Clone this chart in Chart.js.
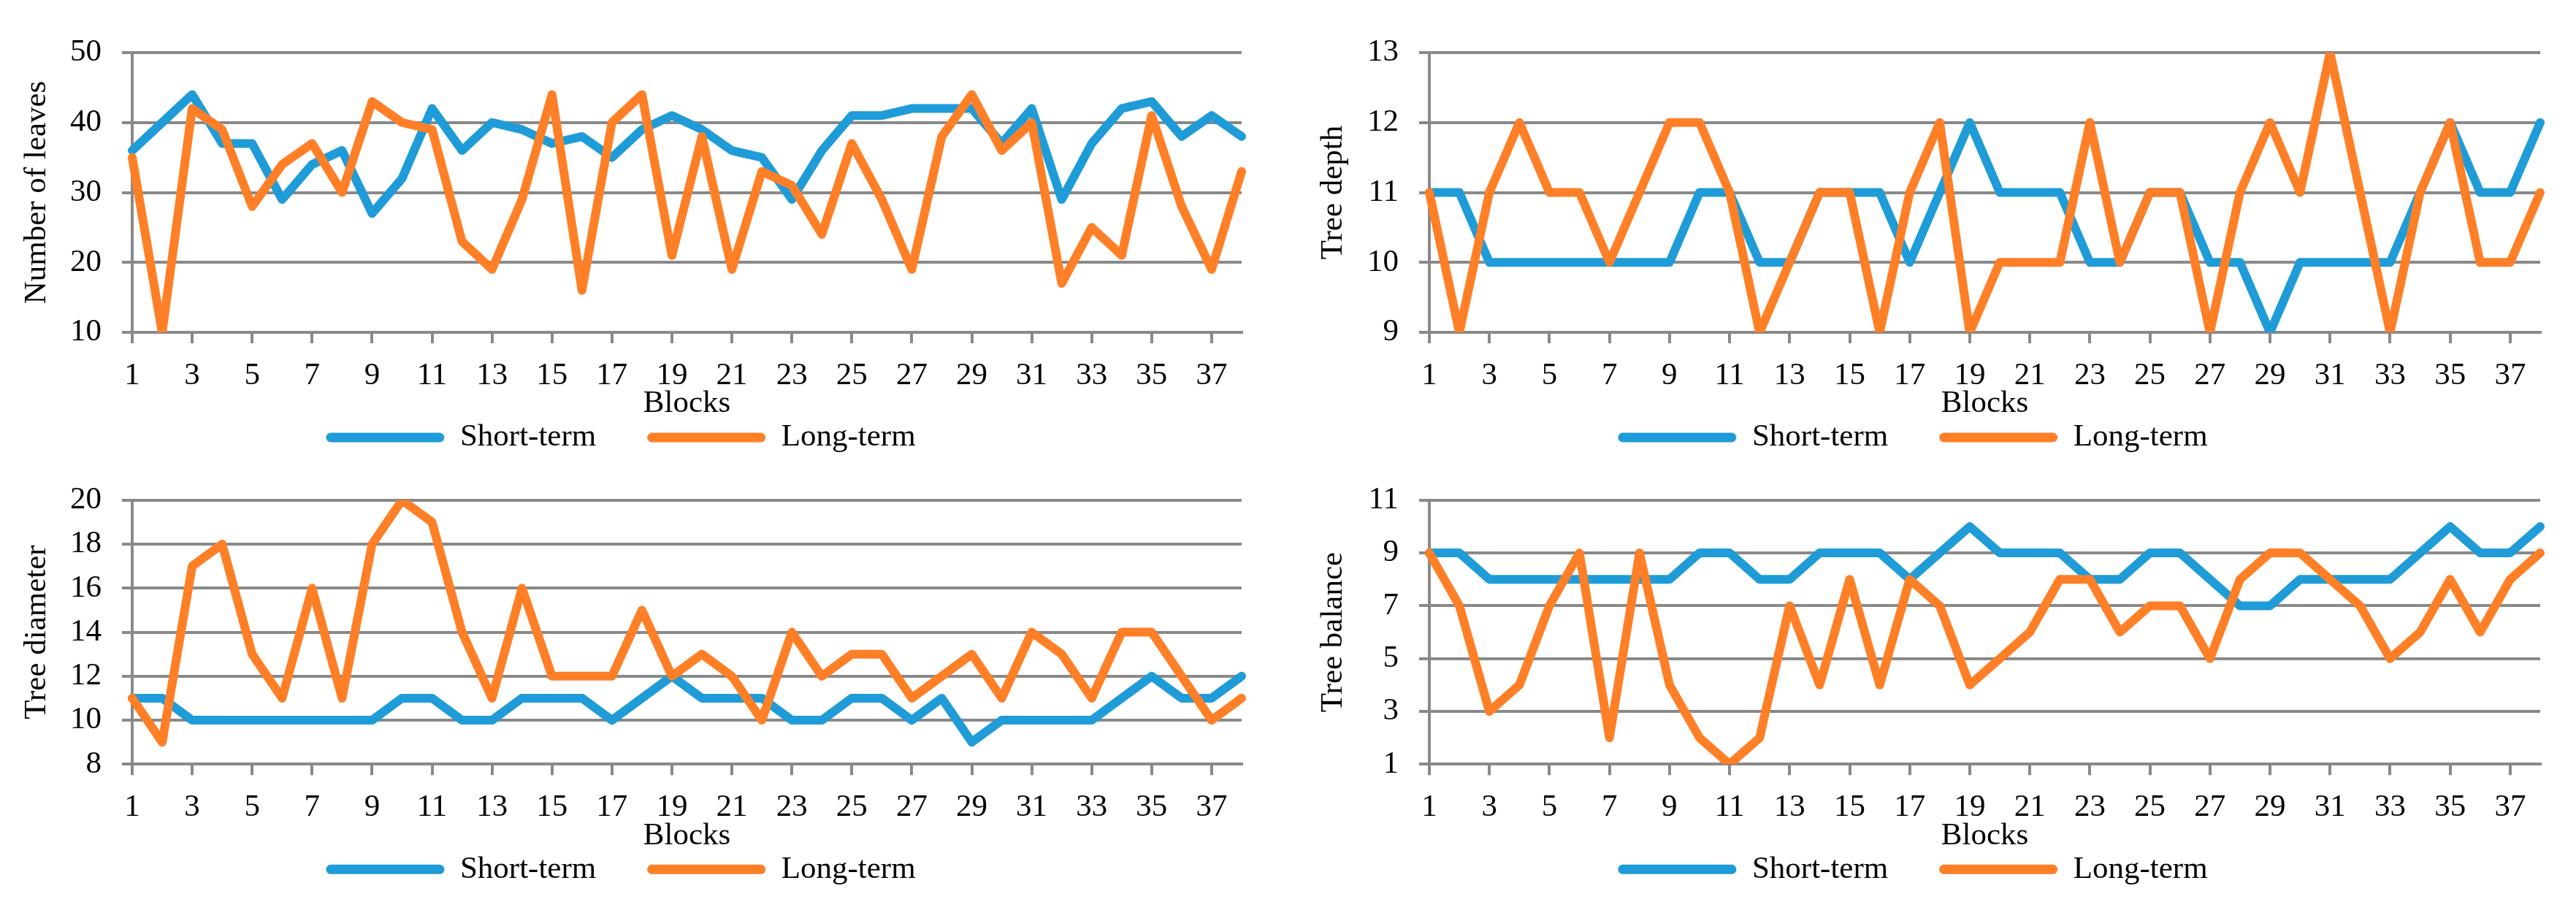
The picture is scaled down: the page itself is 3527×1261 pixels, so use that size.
<!DOCTYPE html>
<html>
<head>
<meta charset="utf-8">
<script src="https://cdn.jsdelivr.net/npm/chart.js@4.4.1/dist/chart.umd.min.js"></script>
<style>
html,body{margin:0;padding:0;background:#fff;width:3527px;height:1261px;overflow:hidden}
canvas{position:absolute}
</style>
</head>
<body>
<canvas id="c1" width="1760" height="631" style="left:0;top:0"></canvas>
<canvas id="c2" width="1767" height="631" style="left:1760px;top:0"></canvas>
<canvas id="c3" width="1760" height="630" style="left:0;top:631px"></canvas>
<canvas id="c4" width="1767" height="630" style="left:1760px;top:631px"></canvas>
<script>
// ---- data ----
const blocks = ['1','2','3','4','5','6','7','8','9','10','11','12','13','14','15','16','17','18','19','20',
                '21','22','23','24','25','26','27','28','29','30','31','32','33','34','35','36','37','38'];
const seriesNames = ['Short-term', 'Long-term'];

const leavesShort = [36,40,44,37,37,29,34,36,27,32,42,36,40,39,37,38,35,39,41,39,36,35,29,36,41,41,42,42,42,37,42,29,37,42,43,38,41,38];
const leavesLong  = [35,10,42,39,28,34,37,30,43,40,39,23,19,29,44,16,40,44,21,38,19,33,31,24,37,29,19,38,44,36,40,17,25,21,41,28,19,33];

const depthShort = [11,11,10,10,10,10,10,10,10,11,11,10,10,11,11,11,10,11,12,11,11,11,10,10,11,11,10,10,9,10,10,10,10,11,12,11,11,12];
const depthLong  = [11,9,11,12,11,11,10,11,12,12,11,9,10,11,11,9,11,12,9,10,10,10,12,10,11,11,9,11,12,11,13,11,9,11,12,10,10,11];

const diamShort = [11,11,10,10,10,10,10,10,10,11,11,10,10,11,11,11,10,11,12,11,11,11,10,10,11,11,10,11,9,10,10,10,10,11,12,11,11,12];
const diamLong  = [11,9,17,18,13,11,16,11,18,20,19,14,11,16,12,12,12,15,12,13,12,10,14,12,13,13,11,12,13,11,14,13,11,14,14,12,10,11];

const balShort = [9,9,8,8,8,8,8,8,8,9,9,8,8,9,9,9,8,9,10,9,9,9,8,8,9,9,8,7,7,8,8,8,8,9,10,9,9,10];
const balLong  = [9,7,3,4,7,9,2,9,4,2,1,2,7,4,8,4,8,7,4,5,6,8,8,6,7,7,5,8,9,9,8,7,5,6,8,6,8,9];

const yTitles = ['Number of leaves', 'Tree depth', 'Tree diameter', 'Tree balance'];
const yRanges = [[10,50,10],[9,13,1],[8,20,2],[1,11,2]];

// ---- style ----
const BLUE = '#1F9CD8';
const ORANGE = '#FF7F27';
const GRID = '#898989';
const FONT = 'Liberation Serif';
const FS = 43;

Chart.defaults.font.family = FONT;
Chart.defaults.font.size = FS;
Chart.defaults.color = '#000';

function makeChart(id, title, range, shortData, longData, lay) {
  const ctx = document.getElementById(id).getContext('2d');
  return new Chart(ctx, {
    type: 'line',
    data: {
      labels: blocks,
      datasets: [
        { label: seriesNames[0], data: shortData, borderColor: BLUE, backgroundColor: BLUE,
          borderWidth: 12, pointRadius: 0, tension: 0, borderJoinStyle: 'round', borderCapStyle: 'round', order: 2 },
        { label: seriesNames[1], data: longData, borderColor: ORANGE, backgroundColor: ORANGE,
          borderWidth: 12, pointRadius: 0, tension: 0, borderJoinStyle: 'round', borderCapStyle: 'round', order: 1 }
      ]
    },
    options: {
      responsive: false,
      devicePixelRatio: 1,
      animation: false,
      events: [],
      layout: { autoPadding: false, padding: lay.padding },
      plugins: {
        tooltip: { enabled: false },
        legend: {
          position: 'bottom',
          labels: {
            boxWidth: 162, boxHeight: 13, padding: 70,
            useBorderRadius: true, borderRadius: 6.5,
            font: { family: FONT, size: FS },
            sort: (a, b) => a.datasetIndex - b.datasetIndex,
            generateLabels: (chart) => Chart.defaults.plugins.legend.labels.generateLabels(chart)
              .map(l => Object.assign(l, { lineWidth: 0 }))
          }
        }
      },
      scales: {
        x: {
          type: 'category',
          offset: false,
          afterFit: s => { s.height = 52.5; s._computeLabelArea = () => undefined; },
          grid: {
            drawOnChartArea: false, drawTicks: true, tickLength: 15, lineWidth: 4,
            color: GRID,
            tickColor: c => (c.index % 2 === 0 ? GRID : 'rgba(0,0,0,0)')
          },
          border: { display: true, color: GRID, width: 4 },
          ticks: {
            autoSkip: false, maxRotation: 0, minRotation: 0, padding: 19,
            callback: function (v, i) { return i % 2 === 0 ? this.getLabelForValue(v) : ''; }
          },
          title: { display: true, text: 'Blocks', font: { family: FONT, size: FS }, padding: { top: 0, bottom: -71.3 } }
        },
        y: {
          min: range[0], max: range[1],
          afterFit: s => { s.width = lay.yWidth; },
          grid: { color: GRID, lineWidth: 4, tickLength: 14, drawTicks: true },
          border: { display: true, color: GRID, width: 4 },
          ticks: { stepSize: range[2], padding: 28 },
          title: { display: true, text: title, font: { family: FONT, size: FS }, padding: { top: lay.titlePad, bottom: 0 } }
        }
      }
    }
  });
}

makeChart('c1', yTitles[0], yRanges[0], leavesShort, leavesLong,
  { padding: { left: 0, right: 60, top: 72, bottom: 0.5 }, yWidth: 181, titlePad: 25 });
makeChart('c2', yTitles[1], yRanges[1], depthShort, depthLong,
  { padding: { left: 0, right: 49, top: 72, bottom: 0.5 }, yWidth: 197, titlePad: 40 });
makeChart('c3', yTitles[2], yRanges[2], diamShort, diamLong,
  { padding: { left: 0, right: 60, top: 31.3, bottom: 39.2 }, yWidth: 181, titlePad: 25 });
makeChart('c4', yTitles[3], yRanges[3], balShort, balLong,
  { padding: { left: 0, right: 49, top: 31.3, bottom: 39.2 }, yWidth: 197, titlePad: 40 });
</script>
</body>
</html>
